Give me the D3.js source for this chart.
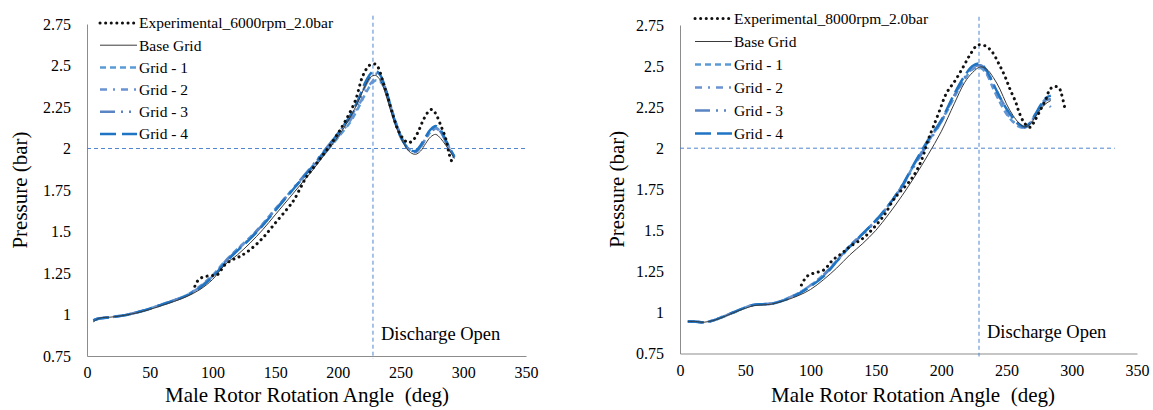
<!DOCTYPE html>
<html>
<head>
<meta charset="utf-8">
<script src="https://cdn.jsdelivr.net/npm/d3@7"></script>
<style>
    body { margin: 0; background: #fff; }
    svg { display: block; }
    text { font-family: "Liberation Serif", Tinos, "Times New Roman", Times, "Nimbus Roman", "DejaVu Serif", serif; fill: #000; }
</style>
</head>
<body>
<svg id="chart" width="1153" height="410"></svg>
<script>
// ---- data ----
const xTicks = [0, 50, 100, 150, 200, 250, 300, 350];
const yTicks = [0.75, 1, 1.25, 1.5, 1.75, 2, 2.25, 2.5, 2.75];
const seriesNames = ["Experimental", "Base Grid", "Grid - 1", "Grid - 2", "Grid - 3", "Grid - 4"];

// 6000 rpm panel
const anglesL = [5, 10, 20, 30, 40, 50, 60, 70, 80, 90, 100, 110, 120, 130, 140, 150, 160, 170, 180, 190,
    200, 210, 216, 222, 226, 230, 234, 238, 242, 246, 250, 254, 258, 262, 266, 270, 274, 278, 282, 286, 290, 293];
const baseL = [0.955, 0.978, 0.985, 0.995, 1.01, 1.03, 1.055, 1.08, 1.11, 1.15, 1.21, 1.30, 1.36, 1.43, 1.51, 1.60, 1.69, 1.78, 1.87, 1.97,
    2.07, 2.19, 2.28, 2.38, 2.43, 2.44, 2.41, 2.33, 2.23, 2.14, 2.07, 2.01, 1.975, 1.965, 1.985, 2.03, 2.07, 2.085, 2.06, 2.02, 1.975, 1.94];
const grid1L = [0.965, 0.977, 0.985, 0.996, 1.013, 1.036, 1.062, 1.088, 1.12, 1.17, 1.235, 1.32, 1.395, 1.465, 1.545, 1.635, 1.72, 1.805, 1.89, 1.975,
    2.065, 2.16, 2.24, 2.33, 2.38, 2.41, 2.40, 2.35, 2.26, 2.16, 2.08, 2.02, 1.985, 1.98, 2.01, 2.06, 2.10, 2.12, 2.10, 2.05, 1.99, 1.95];
const grid2L = [0.965, 0.977, 0.985, 0.996, 1.013, 1.035, 1.06, 1.086, 1.118, 1.165, 1.23, 1.318, 1.392, 1.462, 1.542, 1.632, 1.718, 1.803, 1.888, 1.975,
    2.07, 2.17, 2.25, 2.34, 2.39, 2.42, 2.41, 2.35, 2.25, 2.155, 2.075, 2.015, 1.985, 1.98, 2.01, 2.06, 2.105, 2.125, 2.10, 2.045, 1.985, 1.95];
const grid3L = [0.965, 0.977, 0.985, 0.997, 1.014, 1.036, 1.062, 1.087, 1.117, 1.165, 1.23, 1.315, 1.39, 1.46, 1.54, 1.63, 1.72, 1.81, 1.90, 1.995,
    2.09, 2.19, 2.27, 2.38, 2.43, 2.45, 2.43, 2.36, 2.26, 2.16, 2.08, 2.02, 1.99, 1.98, 2.01, 2.06, 2.10, 2.12, 2.10, 2.04, 1.98, 1.94];
const grid4L = [0.965, 0.976, 0.984, 0.996, 1.013, 1.035, 1.06, 1.085, 1.115, 1.16, 1.225, 1.31, 1.385, 1.455, 1.535, 1.625, 1.715, 1.805, 1.895, 1.99,
    2.09, 2.2, 2.29, 2.4, 2.45, 2.47, 2.44, 2.36, 2.25, 2.15, 2.07, 2.02, 1.99, 1.985, 2.02, 2.07, 2.115, 2.135, 2.11, 2.05, 1.99, 1.95];
const expAnglesL = [86, 88, 91, 95, 100, 104, 110, 116, 122, 130, 140, 150, 160, 165, 170, 175, 180, 186, 192, 200,
    207, 214, 219, 222, 225, 229, 232, 236, 239, 244, 248, 252, 256, 260, 264, 268, 272, 275, 278, 282, 286, 289, 292];
const expL = [1.17, 1.20, 1.22, 1.23, 1.235, 1.24, 1.30, 1.33, 1.35, 1.39, 1.46, 1.55, 1.64, 1.69, 1.76, 1.83, 1.88, 1.94, 2.00, 2.09,
    2.18, 2.29, 2.42, 2.47, 2.50, 2.51, 2.49, 2.40, 2.33, 2.20, 2.11, 2.06, 2.035, 2.05, 2.10, 2.17, 2.22, 2.235, 2.21, 2.14, 2.06, 1.96, 1.90];

// 8000 rpm panel
const anglesR = [6, 12, 18, 25, 30, 40, 50, 56, 62, 70, 80, 90, 100, 110, 120, 130, 140, 150, 160, 170,
    180, 190, 200, 210, 218, 224, 230, 235, 240, 245, 250, 255, 260, 264, 268, 272, 276, 280, 284];
const baseR = [0.945, 0.945, 0.94, 0.95, 0.962, 0.995, 1.025, 1.04, 1.045, 1.05, 1.072, 1.10, 1.14, 1.20, 1.27, 1.35, 1.42, 1.50, 1.60, 1.71,
    1.83, 1.96, 2.10, 2.27, 2.40, 2.46, 2.495, 2.48, 2.43, 2.36, 2.27, 2.20, 2.15, 2.13, 2.145, 2.19, 2.235, 2.27, 2.29];
const grid1R = [0.945, 0.944, 0.94, 0.95, 0.965, 0.998, 1.03, 1.046, 1.05, 1.054, 1.078, 1.115, 1.165, 1.23, 1.315, 1.405, 1.48, 1.56, 1.655, 1.77,
    1.91, 2.04, 2.16, 2.31, 2.42, 2.48, 2.49, 2.45, 2.36, 2.28, 2.21, 2.16, 2.13, 2.125, 2.15, 2.20, 2.255, 2.30, 2.31];
const grid2R = [0.945, 0.944, 0.94, 0.95, 0.965, 0.998, 1.03, 1.046, 1.05, 1.054, 1.078, 1.115, 1.165, 1.23, 1.315, 1.405, 1.48, 1.56, 1.655, 1.77,
    1.91, 2.04, 2.165, 2.315, 2.425, 2.485, 2.495, 2.455, 2.37, 2.285, 2.215, 2.165, 2.135, 2.13, 2.15, 2.195, 2.245, 2.27, 2.25];
const grid3R = [0.945, 0.944, 0.94, 0.95, 0.964, 0.997, 1.03, 1.045, 1.05, 1.053, 1.076, 1.11, 1.16, 1.225, 1.31, 1.40, 1.475, 1.555, 1.65, 1.765,
    1.90, 2.03, 2.16, 2.32, 2.43, 2.49, 2.505, 2.47, 2.39, 2.31, 2.24, 2.18, 2.14, 2.125, 2.15, 2.20, 2.25, 2.29, 2.30];
const grid4R = [0.945, 0.944, 0.94, 0.95, 0.964, 0.997, 1.03, 1.045, 1.05, 1.052, 1.075, 1.11, 1.16, 1.22, 1.31, 1.40, 1.48, 1.56, 1.655, 1.77,
    1.915, 2.05, 2.17, 2.33, 2.44, 2.50, 2.515, 2.47, 2.39, 2.31, 2.24, 2.185, 2.145, 2.13, 2.155, 2.205, 2.26, 2.305, 2.32];
const expAnglesR = [93, 97, 102, 110, 117, 124, 130, 140, 148, 157, 163, 168, 176, 181, 186, 190, 194, 199, 204, 211,
    217, 222, 228, 234, 239, 244, 249, 253, 257, 260, 264, 268, 272, 276, 280, 283, 286, 290, 292, 295];
const expR = [1.167, 1.218, 1.238, 1.258, 1.319, 1.36, 1.40, 1.451, 1.512, 1.60, 1.68, 1.73, 1.80, 1.86, 1.948, 2.05, 2.13, 2.233, 2.334, 2.415,
    2.496, 2.567, 2.628, 2.622, 2.587, 2.517, 2.435, 2.354, 2.283, 2.212, 2.151, 2.127, 2.172, 2.233, 2.293, 2.354, 2.374, 2.37, 2.334, 2.233];

// ---- styles per series (same order as seriesNames) ----
const styles = [
    {color: "#111", width: 3, dash: "0.1 5.5", cap: "round"},
    {color: "#3a3a3a", width: 1, dash: null, cap: "butt"},
    {color: "#5b9bd5", width: 2.5, dash: "6 4", cap: "butt"},
    {color: "#6a93d2", width: 2.5, dash: "7 6 2 6", cap: "butt"},
    {color: "#5a84c4", width: 2.5, dash: "15 6 2 6 2 6", cap: "butt"},
    {color: "#1f74c4", width: 2.5, dash: "16 6", cap: "butt"}
];

const serif = "'Liberation Serif', Tinos, 'Times New Roman', Times, 'Nimbus Roman', 'DejaVu Serif', serif";
const svg = d3.select("#chart");

function drawPanel(p) {
    const x = d3.scaleLinear().domain([0, 350]).range([p.left, p.right]);
    const y = d3.scaleLinear().domain([0.75, 2.75]).range([p.bottom, p.top]);

    // axes (lines only, no tick marks)
    const xAxis = svg.append("g")
        .attr("transform", `translate(0,${p.bottom})`)
        .call(d3.axisBottom(x).tickValues(xTicks).tickSize(0).tickPadding(11).tickFormat(d => d));
    const yAxis = svg.append("g")
        .attr("transform", `translate(${p.left},0)`)
        .call(d3.axisLeft(y).tickValues(yTicks).tickSize(0).tickPadding(16).tickFormat(d => d));
    [xAxis, yAxis].forEach(a => {
        a.attr("font-family", serif);
        a.select(".domain").attr("stroke", "#8c8c8c").attr("stroke-width", 1);
        a.selectAll("text")
            .attr("font-size", "16px")
            .attr("fill", "#000");
    });

    // reference lines: 2 bar and discharge opening
    svg.append("line")
        .attr("x1", x(0)).attr("x2", x(p.hEnd))
        .attr("y1", y(2)).attr("y2", y(2))
        .attr("stroke", "#4f86cf").attr("stroke-width", 1)
        .attr("stroke-dasharray", "4 3");
    svg.append("line")
        .attr("x1", x(p.discharge)).attr("x2", x(p.discharge))
        .attr("y1", y(2.8)).attr("y2", p.bottom + 3)
        .attr("stroke", "#4f86cf").attr("stroke-width", 1)
        .attr("stroke-dasharray", "4 3");

    svg.append("text")
        .attr("x", x(p.discharge) + 8)
        .attr("y", p.bottom - 16)
        .attr("font-size", "18.5px")
        .text("Discharge Open");

    // curves
    const line = d3.line()
        .x(d => x(d[0]))
        .y(d => y(d[1]))
        .curve(d3.curveCatmullRom);

    const order = [2, 3, 4, 5, 1, 0];
    order.forEach(i => {
        const s = styles[i];
        const pts = p.series[i].angles.map((a, k) => [a, p.series[i].values[k]]);
        svg.append("path")
            .datum(pts)
            .attr("d", line)
            .attr("fill", "none")
            .attr("stroke", s.color)
            .attr("stroke-width", s.width)
            .attr("stroke-linecap", s.cap)
            .attr("stroke-linejoin", "round")
            .attr("stroke-dasharray", s.dash);
    });

    // legend
    seriesNames.forEach((name, i) => {
        const s = styles[i];
        const ly = p.legendY + i * p.legendStep;
        svg.append("line")
            .attr("x1", p.legendX).attr("x2", p.legendX + 37)
            .attr("y1", ly).attr("y2", ly)
            .attr("stroke", s.color)
            .attr("stroke-width", i === 1 ? 1 : s.width)
            .attr("stroke-linecap", s.cap)
            .attr("stroke-dasharray", s.dash);
        svg.append("text")
            .attr("x", p.legendX + 39)
            .attr("y", ly)
            .attr("dy", "0.35em")
            .attr("font-size", "15.5px")
            .text(i === 0 ? p.expLabel : name);
    });

    // axis titles
    svg.append("text")
        .attr("transform", `translate(${p.yTitleX},${(p.top + p.bottom) / 2}) rotate(-90)`)
        .attr("text-anchor", "middle")
        .attr("dy", "0.35em")
        .attr("font-size", "21px")
        .text("Pressure (bar)");
    svg.append("text")
        .attr("x", p.xTitleX)
        .attr("y", 402)
        .attr("text-anchor", "middle")
        .attr("font-size", "21px")
        .attr("xml:space", "preserve")
        .text("Male Rotor Rotation Angle  (deg)");
}

drawPanel({
    left: 87, right: 526, top: 24, bottom: 356,
    hEnd: 350, discharge: 228,
    legendX: 100, legendY: 23, legendStep: 22.2,
    yTitleX: 20, xTitleX: 307,
    expLabel: "Experimental_6000rpm_2.0bar",
    series: [
        {angles: expAnglesL, values: expL},
        {angles: anglesL, values: baseL},
        {angles: anglesL, values: grid1L},
        {angles: anglesL, values: grid2L},
        {angles: anglesL, values: grid3L},
        {angles: anglesL, values: grid4L}
    ]
});

drawPanel({
    left: 680, right: 1137, top: 25, bottom: 353.5,
    hEnd: 333, discharge: 229,
    legendX: 695, legendY: 18.5, legendStep: 23,
    yTitleX: 617, xTitleX: 913,
    expLabel: "Experimental_8000rpm_2.0bar",
    series: [
        {angles: expAnglesR, values: expR},
        {angles: anglesR, values: baseR},
        {angles: anglesR, values: grid1R},
        {angles: anglesR, values: grid2R},
        {angles: anglesR, values: grid3R},
        {angles: anglesR, values: grid4R}
    ]
});
</script>
</body>
</html>
